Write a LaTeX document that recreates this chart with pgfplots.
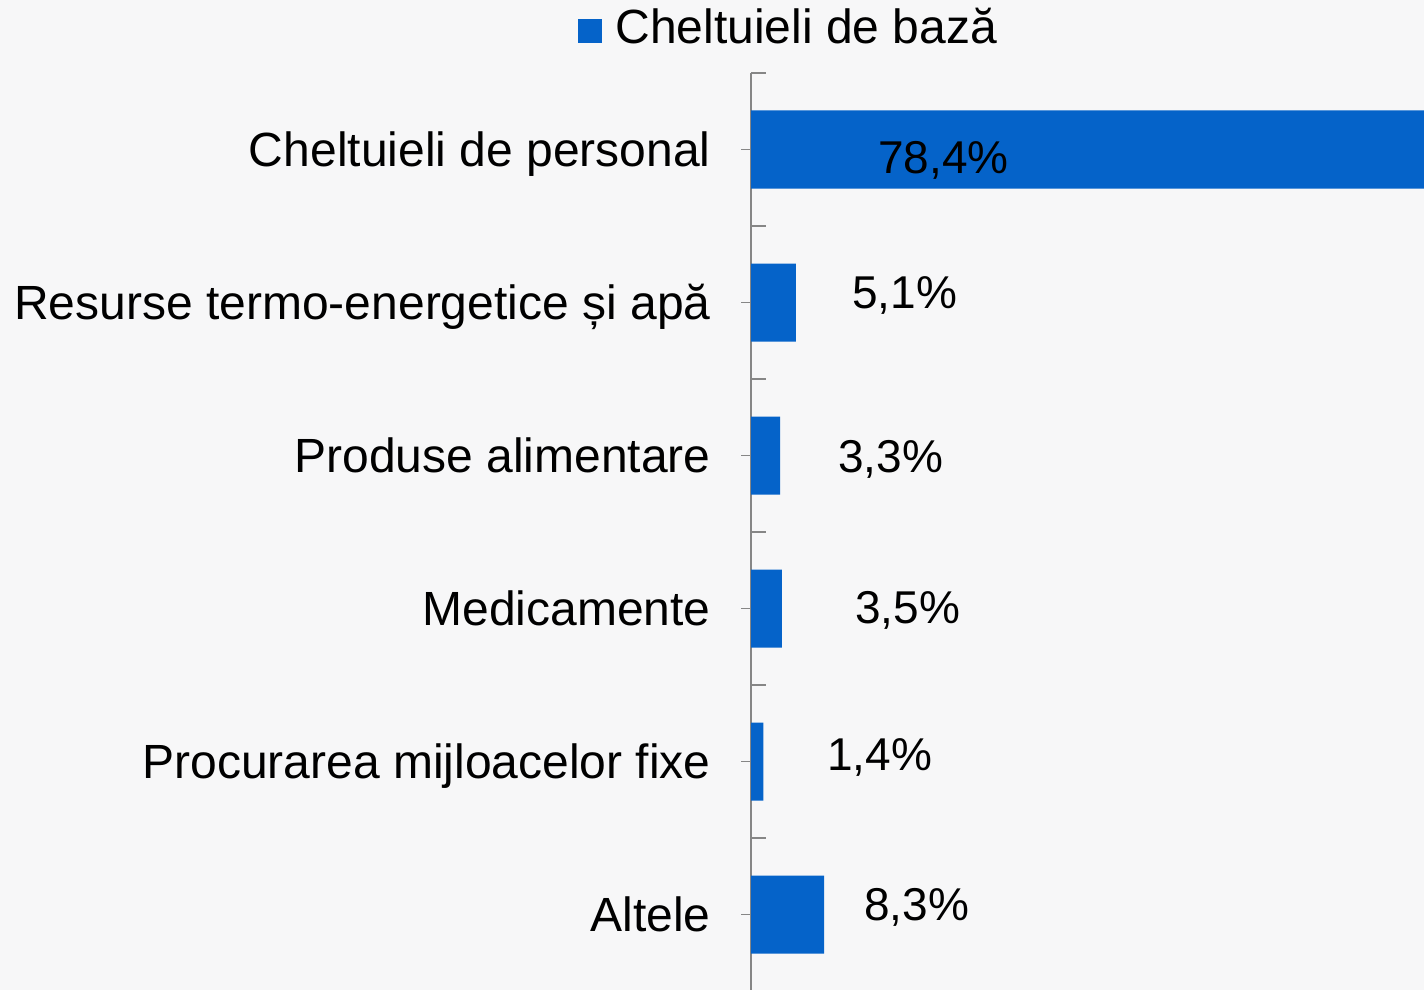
\documentclass[border=0pt]{standalone}
\usepackage{pgfplots}
\pgfplotsset{compat=1.18}
\usepackage{fontspec}
\setmainfont{Liberation Sans}
\definecolor{barblue}{RGB}{5,99,201}
\definecolor{bgc}{RGB}{247,247,248}
\definecolor{axgray}{RGB}{134,134,134}
\begin{document}
\begin{tikzpicture}
\useasboundingbox (0,0) rectangle (712pt,495pt);
\fill[bgc] (0,0) rectangle (712pt,495pt);
\begin{axis}[
  at={(375.5pt,-0.5pt)}, anchor=south west,
  scale only axis, width=336.5pt, height=459pt,
  xmin=0, xmax=76.5,
  ymin=-0.5, ymax=5.5, y dir=reverse,
  axis x line=none,
  axis y line*=left,
  y axis line style={draw=axgray, line width=0.7pt, -},
  xbar, bar width=39pt,
  ytick={0,1,2,3,4,5},
  yticklabels={Cheltuieli de personal, Resurse termo-energetice și apă, Produse alimentare, Medicamente, Procurarea mijloacelor fixe, Altele},
  minor ytick={-0.5,0.5,1.5,2.5,3.5,4.5,5.5},
  tick align=outside,
  major tick length=5pt,
  minor tick length=7.5pt,
  major tick style={draw=axgray, line width=0.7pt},
  minor tick style={draw=axgray, line width=0.7pt, xshift=7.5pt},
  yticklabel style={font=\fontsize{24}{28}\selectfont, anchor=base east, inner sep=0pt, xshift=-15pt, yshift=-8.5pt},
  legend style={draw=none, fill=none, inner sep=0pt, column sep=6.5pt, at={(-0.2571,1.0276)}, anchor=south west,
    font=\fontsize{24}{28}\selectfont, nodes={inner sep=0pt}},
  legend image code/.code={\path[fill=none,draw=none] (0pt,-10pt) rectangle (12pt,30pt); \fill[#1] (0pt,-8pt) rectangle (12pt,4pt);},
  clip=true,
]
\addplot[fill=barblue, draw=none] coordinates {(78.4,0) (5.1,1) (3.3,2) (3.5,3) (1.4,4) (8.3,5)};
\addlegendentry{Cheltuieli de bază}
\begin{scope}[every node/.style={anchor=base west, inner sep=0pt, font=\fontsize{23}{27}\selectfont}]
\node at (axis cs:14.43,0.1536) {78,4\%};
\node at (axis cs:11.48,1.036) {5,1\%};
\node at (axis cs:9.89,2.114) {3,3\%};
\node at (axis cs:11.82,3.095) {3,5\%};
\node at (axis cs:8.64,4.062) {1,4\%};
\node at (axis cs:12.84,5.036) {8,3\%};
\end{scope}
\end{axis}
\end{tikzpicture}
\end{document}
